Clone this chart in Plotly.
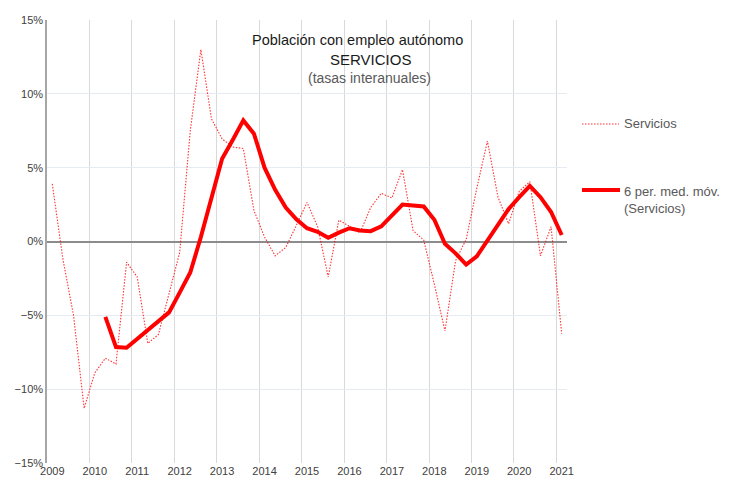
import plotly.graph_objects as go

years = ["2009", "2010", "2011", "2012", "2013", "2014", "2015",
         "2016", "2017", "2018", "2019", "2020", "2021"]

# Quarterly year-on-year rates (%), 2009 Q1 .. 2021 Q1
servicios = [3.9, -1.2, -5.0, -11.3, -8.9, -7.9, -8.3, -1.4, -2.4, -6.9,
             -6.3, -3.5, -0.75, 7.5, 13.0, 8.3, 6.95, 6.4, 6.3, 2.1,
             0.3, -0.97, -0.4, 1.1, 2.65, 1.0, -2.4, 1.45, 1.0, 0.6,
             2.3, 3.26, 2.95, 4.87, 0.73, 0.1, -2.9, -6.06, -1.3, 0.15,
             3.6, 6.8, 3.0, 1.2, 3.4, 4.05, -0.97, 1.0, -6.25]

# 6-period moving average (first 5 quarters empty)
media_movil = [None, None, None, None, None, -5.1, -7.15, -7.2, -6.6, -5.95,
               -5.4, -4.8, -3.46, -2.1, 0.3, 3.0, 5.6, 6.87, 8.2, 7.3,
               5.0, 3.5, 2.3, 1.5, 0.9, 0.66, 0.25, 0.6, 0.9, 0.75,
               0.7, 1.02, 1.77, 2.5, 2.44, 2.37, 1.47, -0.15, -0.8, -1.56,
               -1.0, 0.1, 1.1, 2.2, 3.0, 3.77, 3.0, 2.0, 0.44]

legend_names = ["Servicios", "6 per. med. móv.<br>(Servicios)"]

x_idx = list(range(len(servicios)))
label_pos = [4 * k for k in range(len(years))]

FONT = "Liberation Sans, Arial, sans-serif"
GRAY = "#595959"
TICK = "#404040"
RED = "#ff0000"
THIN = dict(color=RED, width=1.1, dash="1.5px,1.5px")
THICK = dict(color=RED, width=4)

# page body has an 8px margin: size/margins compensate for it
W, H = 721, 476
ML, MT, PW, PH = 39, 12, 520, 443


def px(X):  # screen x -> paper x
    return (X - 47) / PW


def py(Y):  # screen y -> paper y
    return (463 - Y) / PH


fig = go.Figure()
fig.add_trace(go.Scatter(x=x_idx, y=servicios, mode="lines", name=legend_names[0],
                         line=THIN, opacity=0.8, showlegend=False))
fig.add_trace(go.Scatter(x=x_idx, y=media_movil, mode="lines", name=legend_names[1],
                         line=THICK, showlegend=False))

fig.update_layout(
    width=W, height=H,
    margin=dict(l=ML, r=W - ML - PW, t=MT, b=H - MT - PH),
    paper_bgcolor="white", plot_bgcolor="white",
    font=dict(family=FONT, size=11, color=GRAY),
    showlegend=False,
)

fig.update_xaxes(
    range=[-0.5, len(servicios) - 0.5],
    tickmode="array", tickvals=label_pos, ticktext=years,
    showgrid=False, ticks="", zeroline=False, showline=False,
    tickfont=dict(family=FONT, size=11, color=TICK),
    minor=dict(tick0=-0.5, dtick=4, showgrid=True,
               gridcolor="#d9d9d9", gridwidth=1, ticks=""),
    automargin=False, fixedrange=True,
)
fig.update_yaxes(
    range=[-15, 15], tickmode="linear", tick0=-15, dtick=5,
    ticksuffix="%", showgrid=True, gridcolor="#e6eaf2", gridwidth=1,
    zeroline=True, zerolinecolor="#8c8c8c", zerolinewidth=1.5,
    showline=True, linecolor="#a6a6a6", linewidth=1.5,
    ticks="", tickfont=dict(family=FONT, size=11, color=TICK),
    automargin=False, fixedrange=True,
)

# Title block with white background (covers gridlines like in the original)
fig.add_shape(type="rect", xref="paper", yref="paper",
              x0=px(245), x1=px(448), y0=py(88), y1=py(28),
              fillcolor="white", line=dict(width=0), layer="between")

fig.add_annotation(text="Población con empleo autónomo", xref="paper", yref="paper",
                   x=px(357), y=py(40), showarrow=False,
                   font=dict(family=FONT, size=14.5, color="#1a1a1a"),
                   xanchor="center", yanchor="middle")
fig.add_annotation(text="SERVICIOS", xref="paper", yref="paper",
                   x=px(370), y=py(59), showarrow=False,
                   font=dict(family=FONT, size=15, color="#1a1a1a"),
                   xanchor="center", yanchor="middle")
fig.add_annotation(text="(tasas interanuales)", xref="paper", yref="paper",
                   x=px(369), y=py(78), showarrow=False,
                   font=dict(family=FONT, size=14, color=GRAY),
                   xanchor="center", yanchor="middle")

# Legend (drawn manually so it does not shrink the plot area)
fig.add_shape(type="line", xref="paper", yref="paper",
              x0=px(582), x1=px(619), y0=py(124), y1=py(124),
              line=dict(color=RED, width=1.1, dash="1.5px,1.5px"), opacity=0.8)
fig.add_annotation(text=legend_names[0], xref="paper", yref="paper",
                   x=px(622), y=py(124), showarrow=False, align="left",
                   font=dict(family=FONT, size=13, color=GRAY),
                   xanchor="left", yanchor="middle")
fig.add_shape(type="line", xref="paper", yref="paper",
              x0=px(582), x1=px(620), y0=py(190), y1=py(190),
              line=THICK)
fig.add_annotation(text=legend_names[1], xref="paper", yref="paper",
                   x=px(622), y=py(200), showarrow=False, align="left",
                   font=dict(family=FONT, size=13, color=GRAY),
                   xanchor="left", yanchor="middle")

fig.write_html("out.html")
